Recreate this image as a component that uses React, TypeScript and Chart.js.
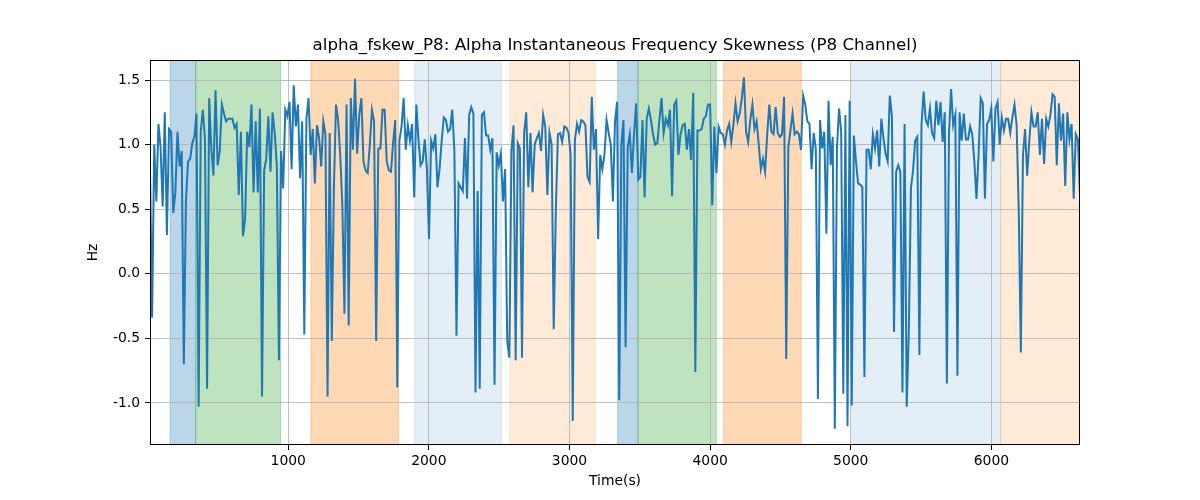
import React, { useEffect, useRef } from 'react';
import { Chart, registerables } from 'chart.js';

Chart.register(...registerables);

// sample grid of the P8 skewness trace (seconds)
const TIME_START = 17;
const TIME_STEP = 15.03;

const FSKEW = [
  // 0 - ~1100 s
  0.81, -0.34, 1.0, 0.56, 1.16, 0.98, 0.52, 1.25, 0.3, 1.12, 1.1, 0.47, 0.63, 1.1, 0.83, 0.95, -0.7, 0.56, 0.87, 0.89,
  1.01, 1.06, 1.24, -1.03, 1.1, 1.27, 1.04, -0.89, 1.36, 0.97, 0.76, 1.42, 0.84, 0.95, 1.31, 1.24, 1.18, 1.2, 1.2, 1.2,
  1.13, 1.16, 0.61, 1.1, 0.29, 0.43, 1.1, 0.98, 1.31, 0.63, 1.18, 0.63, 1.28, -0.95, 0.8, 0.89, 1.22, 0.79, 1.25, 1.09,
  0.84, -0.67, 0.95, 0.66, 1.27, 1.22, 1.33, 0.81, 1.46, 1.14, 1.31, 0.74, 1.18,
  // ~1100 - 2200 s
  -0.47, 1.2, 1.36, 0.92, 1.12, 0.7, 1.15, 1.05, 0.83, 1.18, 1.08, -0.95, 1.09, -0.52, 0.66, 1.31, 1.19, 0.92, 0.53, -0.31,
  1.31, -0.4, 1.36, 0.96, 1.51, 0.93, 1.23, 1.36, 0.87, 0.8, 0.78, 1.0, 1.27, 1.18, -0.52, 0.97, 0.97, 1.27, 1.27, 0.87,
  0.8, 0.79, 1.01, 1.19, -0.88, 1.03, 1.14, 1.36, 0.96, 1.15, 1.03, 1.16, 0.59, 1.31, 1.04, 0.84, 0.87, 1.04, 0.81, 0.27,
  1.03, 0.97, 1.08, 0.67, 0.81, 1.03, 1.21, 1.19, 1.1, 1.12, 1.27, 0.95, -0.48,
  // ~2200 - 3300 s
  0.7, 0.67, 0.64, 1.05, 0.58, 1.23, 1.29, 1.24, -0.92, 0.64, -0.89, 1.23, 1.25, 1.07, 1.07, 0.96, 1.05, -0.86, 0.94, 0.84,
  0.93, 0.56, 0.81, -0.52, -0.65, 0.95, 1.15, -0.67, 1.01, 0.97, -0.65, 1.09, 1.25, 0.67, 1.09, 0.63, 1.0, 1.05, 1.09, 0.95,
  1.23, 1.14, 0.61, 1.09, 1.0, -0.43, 0.49, 1.08, 1.09, 1.02, 1.14, 1.13, 1.09, 0.92, -1.14, 1.03, 1.16, 1.1, 1.19, 1.18,
  1.15, 0.75, 0.71, 1.37, 0.96, 1.12, 0.27, 0.92, 0.81, 0.92, 1.19, 1.09, 1.0,
  // ~3300 - 4400 s
  0.56, 1.18, 1.33, -0.98, 1.0, 1.19, -0.57, 0.98, 1.08, 0.78, 1.08, 1.32, 0.73, 0.75, 1.19, 0.59, 1.2, 1.28, 1.19, 1.08,
  1.0, 1.01, 1.19, 1.36, 1.09, 1.2, 1.15, 1.27, 0.6, 1.31, 1.34, 0.92, 1.08, 1.15, 1.16, 0.96, 1.12, 0.88, 1.4, -0.76,
  1.11, 1.11, 1.12, 1.2, 1.22, 1.31, 1.31, 0.53, 1.14, 0.78, 1.14, 1.09, 1.08, 1.0, 1.11, 1.16, 1.02, 1.15, 1.32, 1.18,
  1.24, 1.36, 1.52, 1.1, 1.02, 1.19, 1.31, 1.12, 1.18, 1.0, 0.81, 0.89, 0.79, 1.08, 1.31,
  // ~4400 - 5500 s
  1.1, 1.08, 1.29, 1.09, 1.06, 1.08, 1.37, -0.66, 0.98, 1.11, 1.24, 1.08, 1.1, 1.08, 0.96, 1.38, 1.31, 1.18, 1.16, 0.81,
  1.09, 0.97, -0.97, 1.19, 0.97, 1.1, 0.31, 1.34, 0.84, 1.06, -1.2, 0.97, 1.28, 1.1, -0.93, 1.23, -1.18, 1.34, -1.02, 1.07,
  0.87, 0.7, 0.69, 0.67, -0.8, 0.96, 0.96, 0.81, 1.08, 0.97, 1.11, 0.83, 1.2, 1.05, 0.93, 0.87, 1.38, 1.22, -0.45, 0.79,
  0.84, 0.79, -0.92, 1.16, -1.03, -0.45, 0.66, 0.8, 1.03, 1.06, -0.63, 1.15, 1.41,
  // ~5500 - 6630 s
  1.19, 1.15, 1.28, 1.09, 1.05, 1.34, 1.15, 1.33, 1.02, 1.25, -0.85, 1.08, 1.43, 1.15, 1.23, -0.79, 1.25, 1.03, 1.24, 1.04,
  1.04, 1.14, 1.08, 0.87, 0.58, 0.92, 1.36, 1.32, 0.58, 1.16, 1.19, 1.28, 0.87, 1.28, 1.33, 1.0, 1.21, 1.11, 1.2, 1.2,
  1.09, 1.21, 1.31, 1.15, 0.5, -0.61, 0.92, 1.12, 0.76, 1.03, 1.25, 1.14, 1.14, 1.25, 0.92, 1.2, 0.85, 1.2, 1.14, 1.23,
  1.39, 1.37, 0.84, 1.32, 1.03, 1.24, 0.68, 1.25, 1.04, 1.16, 0.58, 1.08, 1.04, 0.6,
];

// shaded intervals (seconds)
const SPAN_STARTS = [160, 342, 1161, 1900, 2575, 3342, 3487, 4096, 5007, 6066];
const SPAN_ENDS = [342, 946, 1784, 2516, 3184, 3487, 4044, 4648, 6066, 6700];
const SPAN_COLORS = [
  'rgba(31,119,180,0.3)',
  'rgba(44,160,44,0.3)',
  'rgba(255,127,14,0.3)',
  'rgba(31,119,180,0.12)',
  'rgba(255,127,14,0.16)',
  'rgba(31,119,180,0.3)',
  'rgba(44,160,44,0.3)',
  'rgba(255,127,14,0.3)',
  'rgba(31,119,180,0.12)',
  'rgba(255,127,14,0.16)',
];

const X_TICKS = [1000, 2000, 3000, 4000, 5000, 6000];
const Y_TICKS = [-1.0, -0.5, 0.0, 0.5, 1.0, 1.5];

const TITLE = 'alpha_fskew_P8: Alpha Instantaneous Frequency Skewness (P8 Channel)';
const FONT = "'DejaVu Sans', sans-serif";

const spansAndFrame = {
  id: 'spansAndFrame',
  beforeDraw(chart: any) {
    const { ctx, chartArea, scales } = chart;
    const x = scales.x;
    ctx.save();
    ctx.beginPath();
    ctx.rect(chartArea.left, chartArea.top, chartArea.right - chartArea.left, chartArea.bottom - chartArea.top);
    ctx.clip();
    SPAN_STARTS.forEach((s, i) => {
      const x0 = x.getPixelForValue(s);
      const x1 = x.getPixelForValue(SPAN_ENDS[i]);
      ctx.fillStyle = SPAN_COLORS[i];
      ctx.fillRect(x0, chartArea.top, x1 - x0, chartArea.bottom - chartArea.top);
      ctx.strokeStyle = SPAN_COLORS[i];
      ctx.lineWidth = 1;
      ctx.beginPath();
      ctx.moveTo(x0, chartArea.top);
      ctx.lineTo(x0, chartArea.bottom);
      ctx.moveTo(x1, chartArea.top);
      ctx.lineTo(x1, chartArea.bottom);
      ctx.stroke();
    });
    ctx.restore();
  },
  afterDraw(chart: any) {
    const { ctx, chartArea } = chart;
    ctx.save();
    ctx.strokeStyle = '#000';
    ctx.lineWidth = 1;
    ctx.strokeRect(chartArea.left + 0.5, chartArea.top + 0.5, chartArea.right - chartArea.left - 1, chartArea.bottom - chartArea.top - 1);

    ctx.fillStyle = '#000';
    ctx.textAlign = 'center';
    ctx.textBaseline = 'middle';
    ctx.font = `16.7px ${FONT}`;
    ctx.fillText(TITLE, (chartArea.left + chartArea.right) / 2, 46);

    ctx.font = `13.9px ${FONT}`;
    ctx.fillText('Time(s)', (chartArea.left + chartArea.right) / 2, 481);
    ctx.translate(93, (chartArea.top + chartArea.bottom) / 2);
    ctx.rotate(-Math.PI / 2);
    ctx.fillText('Hz', 0, 0);
    ctx.restore();
  },
};

export default function App() {
  const canvasRef = useRef<HTMLCanvasElement>(null);
  const chartRef = useRef<Chart | null>(null);

  useEffect(() => {
    document.body.style.margin = '0';
    if (!canvasRef.current) return;
    const ctx = canvasRef.current.getContext('2d');
    if (!ctx) return;
    if (chartRef.current) chartRef.current.destroy();

    const points = FSKEW.map((v, i) => ({ x: TIME_START + i * TIME_STEP, y: v }));

    chartRef.current = new Chart(ctx, {
      type: 'line',
      data: {
        datasets: [{
          data: points,
          borderColor: '#1f77b4',
          borderWidth: 2,
          pointRadius: 0,
          tension: 0,
          fill: false,
        }],
      },
      options: {
        responsive: false,
        animation: false,
        events: [],
        layout: { padding: { left: 0, right: 120, top: 60, bottom: 0 } },
        scales: {
          x: {
            type: 'linear',
            min: 17,
            max: 6630,
            afterBuildTicks: (s: any) => { s.ticks = X_TICKS.map((v) => ({ value: v })); },
            afterFit: (s: any) => { s.height = 55; },
            ticks: { color: '#000', font: { size: 13.9, family: FONT }, padding: 3, maxRotation: 0, callback: (v: any) => String(v) },
            grid: { color: '#b0b0b0', lineWidth: 0.8, tickColor: '#000', tickLength: 5, tickWidth: 1 },
            border: { display: false },
          },
          y: {
            type: 'linear',
            min: -1.326,
            max: 1.655,
            afterBuildTicks: (s: any) => { s.ticks = Y_TICKS.map((v) => ({ value: v })); },
            afterFit: (s: any) => { s.width = 150; },
            ticks: { color: '#000', font: { size: 13.9, family: FONT }, padding: 5, callback: (v: any) => Number(v).toFixed(1) },
            grid: { color: '#b0b0b0', lineWidth: 0.8, tickColor: '#000', tickLength: 5, tickWidth: 1 },
            border: { display: false },
          },
        },
        plugins: {
          legend: { display: false },
          tooltip: { enabled: false },
          title: { display: false },
        },
      },
      plugins: [spansAndFrame],
    });

    return () => { if (chartRef.current) chartRef.current.destroy(); };
  }, []);

  return (
    <div style={{ width: 1200, height: 500, background: '#fff' }}>
      <canvas ref={canvasRef} width={1200} height={500} />
    </div>
  );
}
